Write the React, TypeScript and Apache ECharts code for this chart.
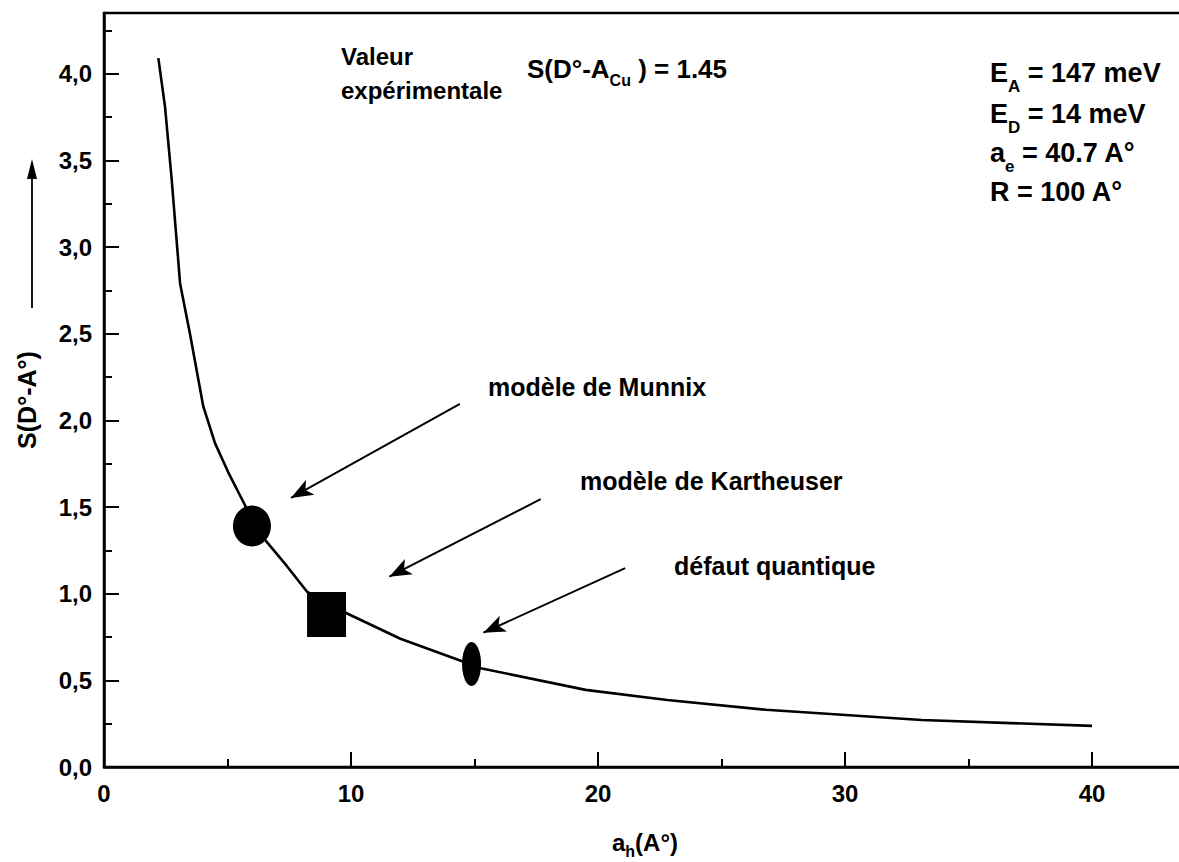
import React, { useEffect, useRef } from 'react';
import * as echarts from 'echarts';

// ---- data ----
const curveX = [2.2, 2.47, 2.74, 3.08, 3.48, 4.02, 4.49, 5.03, 5.71, 6.0, 6.52, 7.4, 8.23, 9.0, 9.78, 12.0, 14.5, 15.25, 19.5, 22.8, 26.8, 33.1, 40.0];
const curveY = [4.09, 3.81, 3.39, 2.79, 2.5, 2.08, 1.87, 1.7, 1.51, 1.4, 1.31, 1.16, 1.01, 0.94, 0.89, 0.74, 0.61, 0.57, 0.445, 0.387, 0.33, 0.271, 0.237];

const modelNames = ['modèle de Munnix', 'modèle de Kartheuser', 'défaut quantique'];
const modelX = [5.99, 9.01, 14.88];
const modelY = [1.39, 0.88, 0.594];

const arrowFromX = [14.41, 17.68, 21.1];
const arrowFromY = [2.095, 1.545, 1.147];
const arrowToX = [7.57, 11.55, 15.36];
const arrowToY = [1.552, 1.098, 0.775];

const xTickValues = [0, 10, 20, 30, 40];
const xTickLabels = ['0', '10', '20', '30', '40'];
const yTickValues = [0, 0.5, 1, 1.5, 2, 2.5, 3, 3.5, 4];
const yTickLabels = ['0,0', '0,5', '1,0', '1,5', '2,0', '2,5', '3,0', '3,5', '4,0'];

const paramSymbols = ['E', 'E', 'a', 'R'];
const paramSubs = ['A', 'D', 'e', ''];
const paramValues = [' = 147 meV', ' = 14 meV', ' = 40.7 A°', ' = 100 A°'];

// ---- styles / layout ----
const FONT = "'Liberation Sans', Arial, sans-serif";
const FS = 24;
const WEIGHT = 'bold';
const markerStyles = [
  { symbol: 'circle', symbolSize: [38, 41] },
  { symbol: 'rect', symbolSize: [39, 45] },
  { symbol: 'circle', symbolSize: [19, 44] },
];
const modelLabelPos = [
  [488, 387],
  [580, 481],
  [674, 566],
];
const paramPos = [
  [990, 73],
  [990, 114],
  [990, 153],
  [990, 192],
];

const fmt = (values: number[], labels: string[]) => (v: number) => {
  const i = values.findIndex((t) => Math.abs(t - v) < 1e-6);
  return i >= 0 ? labels[i] : '';
};

export default function App() {
  const ref = useRef<HTMLDivElement>(null);
  useEffect(() => {
    const chart = echarts.init(ref.current!, null, { renderer: 'svg' });

    const mk = (size: number, lh: number) => ({
      fontSize: size,
      fontFamily: FONT,
      fontWeight: WEIGHT,
      fill: '#000',
      lineHeight: lh,
    });
    const subRich = (size: number, pad: number) => ({
      ...mk(size, size),
      padding: [pad, 0, 0, 0],
    });
    const rich = {
      m: mk(FS, 30),
      s: subRich(16, 22),
      t: subRich(16, 18),
      M: mk(27, 32),
      S: subRich(17, 26),
      n: mk(26, 30),
    };

    const plainText = (text: string, x: number, y: number, extra: any = {}) => ({
      type: 'text',
      x,
      y,
      silent: true,
      ...extra,
      style: {
        text,
        fontSize: FS,
        fontFamily: FONT,
        fontWeight: WEIGHT,
        fill: '#000',
        align: 'left',
        verticalAlign: 'middle',
        textAlign: 'left',
        textVerticalAlign: 'middle',
        ...(extra.style || {}),
      },
    });

    const richText = (text: string, x: number, y: number, align = 'left') => ({
      type: 'text',
      x,
      y,
      silent: true,
      style: {
        text,
        rich,
        fill: '#000',
        fontSize: FS,
        fontFamily: FONT,
        fontWeight: WEIGHT,
        align,
        verticalAlign: 'middle',
        textAlign: align,
        textVerticalAlign: 'middle',
      },
    });

    const graphics: any[] = [];
    graphics.push(plainText('Valeur', 341, 56));
    graphics.push(plainText('expérimentale', 341, 90));
    graphics.push(richText('{n|S(D°-A}{s|Cu}{n| ) = 1.45}', 527, 69));
    paramSymbols.forEach((s, i) => {
      const t = paramSubs[i]
        ? `{M|${s}}{S|${paramSubs[i]}}{M|${paramValues[i]}}`
        : `{M|${s}${paramValues[i]}}`;
      graphics.push(richText(t, paramPos[i][0], paramPos[i][1]));
    });
    modelNames.forEach((n, i) => {
      graphics.push(plainText(n, modelLabelPos[i][0], modelLabelPos[i][1], { style: { fontSize: 25 } }));
    });
    graphics.push(richText('{m|a}{t|h}{m|(A°)}', 645, 842, 'center'));
    graphics.push(
      plainText('S(D°-A°)', 27, 400, {
        rotation: Math.PI / 2,
        style: { align: 'center', textAlign: 'center', fontSize: 25 },
      })
    );
    graphics.push({
      type: 'line',
      silent: true,
      shape: { x1: 32, y1: 176, x2: 32, y2: 308 },
      style: { stroke: '#000', lineWidth: 1.8 },
    });
    graphics.push({
      type: 'polygon',
      silent: true,
      shape: { points: [[32, 159], [27, 179], [37, 179]] },
      style: { fill: '#000' },
    });

    const axisCommon = {
      type: 'value',
      min: 0,
      splitLine: { show: false },
    };

    chart.setOption({
      animation: false,
      backgroundColor: '#fff',
      grid: {
        left: 104,
        top: 13,
        width: 1111.5,
        height: 754,
        show: true,
        borderColor: '#000',
        borderWidth: 2.5,
        backgroundColor: 'transparent',
        containLabel: false,
        outerBoundsMode: 'none',
      },
      xAxis: [
        {
          ...axisCommon,
          max: 45,
          interval: 10,
          position: 'bottom',
          axisLine: { show: true, onZero: false, lineStyle: { color: '#000', width: 2.5 } },
          axisTick: { show: true, inside: true, length: 15, lineStyle: { color: '#000', width: 2 } },
          axisLabel: {
            show: true,
            margin: 14,
            color: '#000',
            fontSize: FS,
            fontWeight: WEIGHT,
            fontFamily: FONT,
            formatter: fmt(xTickValues, xTickLabels),
          },
        },
        {
          ...axisCommon,
          max: 45,
          interval: 5,
          position: 'bottom',
          axisLine: { show: false, onZero: false },
          axisTick: { show: true, inside: true, length: 8, lineStyle: { color: '#000', width: 2 } },
          axisLabel: { show: false },
        },
      ],
      yAxis: [
        {
          ...axisCommon,
          max: 4.35,
          interval: 0.5,
          position: 'left',
          axisLine: { show: true, onZero: false, lineStyle: { color: '#000', width: 2.5 } },
          axisTick: { show: true, inside: true, length: 15, lineStyle: { color: '#000', width: 2 } },
          axisLabel: {
            show: true,
            margin: 12,
            color: '#000',
            fontSize: FS,
            fontWeight: WEIGHT,
            fontFamily: FONT,
            formatter: fmt(yTickValues, yTickLabels),
          },
        },
        {
          ...axisCommon,
          max: 4.35,
          interval: 0.25,
          position: 'left',
          axisLine: { show: false, onZero: false },
          axisTick: { show: true, inside: true, length: 8, lineStyle: { color: '#000', width: 2 } },
          axisLabel: { show: false },
        },
      ],
      series: [
        {
          type: 'line',
          name: 'S',
          xAxisIndex: 0,
          yAxisIndex: 0,
          data: curveX.map((x, i) => [x, curveY[i]]),
          showSymbol: false,
          symbol: 'none',
          smooth: false,
          silent: true,
          lineStyle: { color: '#000', width: 2.6 },
          markLine: {
            silent: true,
            animation: false,
            symbol: ['none', 'arrow'],
            label: { show: false },
            emphasis: { disabled: true },
            lineStyle: { color: '#000', width: 2, type: 'solid' },
            data: arrowFromX.map((fx, i) => [
              { coord: [fx, arrowFromY[i]], symbol: 'none' },
              { coord: [arrowToX[i], arrowToY[i]], symbol: 'arrow', symbolSize: [13, 22] },
            ]),
          },
        },
        {
          type: 'scatter',
          name: 'modèles',
          xAxisIndex: 0,
          yAxisIndex: 0,
          silent: true,
          data: modelX.map((x, i) => ({
            name: modelNames[i],
            value: [x, modelY[i]],
            symbol: markerStyles[i].symbol,
            symbolSize: markerStyles[i].symbolSize,
          })),
          itemStyle: { color: '#000', opacity: 1 },
        },
      ],
      graphic: graphics,
    });

    return () => chart.dispose();
  }, []);

  return (
    <div
      ref={ref}
      style={{ position: 'fixed', left: 0, top: 0, width: 1179, height: 862, background: '#fff' }}
    />
  );
}
